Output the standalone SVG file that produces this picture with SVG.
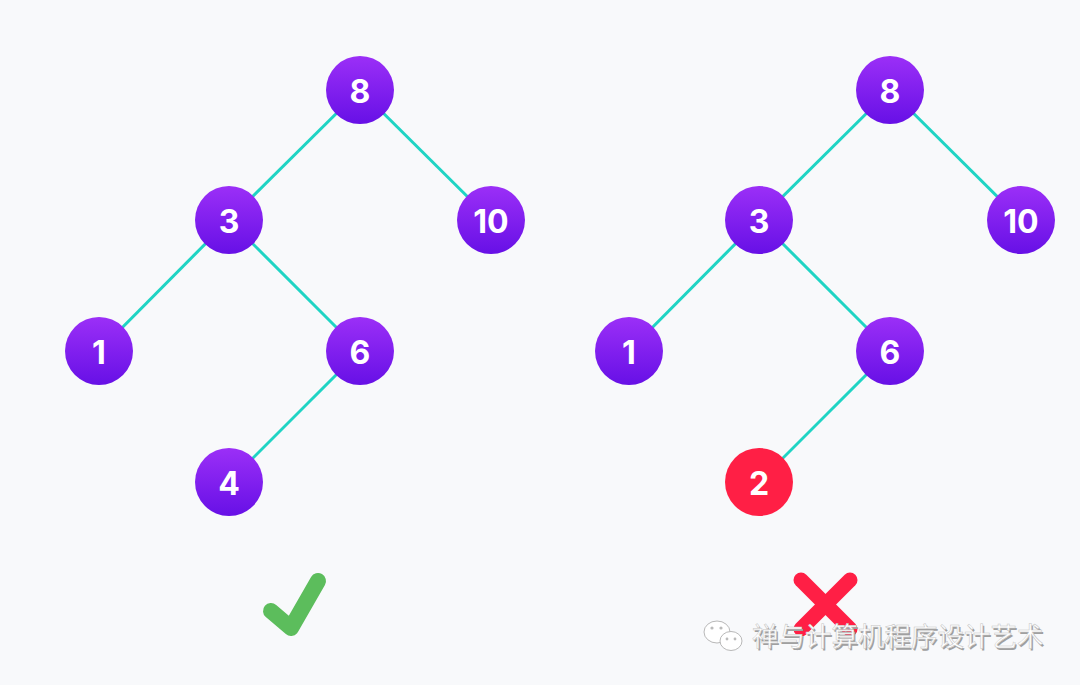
<svg xmlns="http://www.w3.org/2000/svg" width="1080" height="685" viewBox="0 0 1080 685">
<defs>
<linearGradient id="pg" x1="0" y1="0" x2="0" y2="1">
<stop offset="0" stop-color="#9b2ff7"/>
<stop offset="1" stop-color="#6710e6"/>
</linearGradient>
<style>
.edge{stroke:#1fd4c4;stroke-width:3;fill:none}
.node{fill:url(#pg)}
.bad{fill:#ff1f45}
.lbl{font-family:Inter,"Open Sans",sans-serif;font-weight:700;font-size:32px;fill:#fff;text-anchor:middle;dominant-baseline:central}
.wm{font-family:"Noto Sans CJK SC",sans-serif;font-size:26.5px}
</style>
</defs>
<rect width="1080" height="685" fill="#f8f9fb"/>
<g id="connectors">
<line class="edge" x1="360" y1="90" x2="229" y2="220"/>
<line class="edge" x1="360" y1="90" x2="491" y2="220"/>
<line class="edge" x1="229" y1="220" x2="99" y2="351"/>
<line class="edge" x1="229" y1="220" x2="360" y2="351"/>
<line class="edge" x1="360" y1="351" x2="229" y2="482"/>
<line class="edge" x1="890" y1="90" x2="759" y2="220"/>
<line class="edge" x1="890" y1="90" x2="1021" y2="220"/>
<line class="edge" x1="759" y1="220" x2="629" y2="351"/>
<line class="edge" x1="759" y1="220" x2="890" y2="351"/>
<line class="edge" x1="890" y1="351" x2="759" y2="482"/>
</g>
<g id="L8"><circle class="node" cx="360" cy="90" r="34"/><text class="lbl" x="360" y="91">8</text></g>
<g id="L3"><circle class="node" cx="229" cy="220" r="34"/><text class="lbl" x="229" y="221">3</text></g>
<g id="L10"><circle class="node" cx="491" cy="220" r="34"/><text class="lbl" x="491" y="221">10</text></g>
<g id="L1"><circle class="node" cx="99" cy="351" r="34"/><text class="lbl" x="99" y="352">1</text></g>
<g id="L6"><circle class="node" cx="360" cy="351" r="34"/><text class="lbl" x="360" y="352">6</text></g>
<g id="L4"><circle class="node" cx="229" cy="482" r="34"/><text class="lbl" x="229" y="483">4</text></g>
<g id="R8"><circle class="node" cx="890" cy="90" r="34"/><text class="lbl" x="890" y="91">8</text></g>
<g id="R3"><circle class="node" cx="759" cy="220" r="34"/><text class="lbl" x="759" y="221">3</text></g>
<g id="R10"><circle class="node" cx="1021" cy="220" r="34"/><text class="lbl" x="1021" y="221">10</text></g>
<g id="R1"><circle class="node" cx="629" cy="351" r="34"/><text class="lbl" x="629" y="352">1</text></g>
<g id="R6"><circle class="node" cx="890" cy="351" r="34"/><text class="lbl" x="890" y="352">6</text></g>
<g id="R2"><circle class="bad" cx="759" cy="482" r="34"/><text class="lbl" x="759" y="483">2</text></g>
<g id="check"><polyline points="271,611 291,628 318,581" fill="none" stroke="#5cbd5c" stroke-width="16" stroke-linecap="round" stroke-linejoin="round"/></g>
<g id="cross" stroke="#ff1f45" stroke-width="15" stroke-linecap="round">
<line x1="801" y1="580" x2="850" y2="629"/>
<line x1="850" y1="580" x2="801" y2="629"/>
</g>
<g id="watermark">
<ellipse cx="717" cy="632" rx="13" ry="11" fill="#fff" stroke="#b8b8b8" stroke-width="1"/>
<ellipse cx="731" cy="641" rx="11" ry="9.5" fill="#fff" stroke="#b8b8b8" stroke-width="1"/>
<circle cx="712" cy="628" r="1.6" fill="#bbb"/><circle cx="721" cy="628" r="1.6" fill="#bbb"/>
<circle cx="727" cy="639" r="1.4" fill="#bbb"/><circle cx="735" cy="639" r="1.4" fill="#bbb"/>
<text class="wm" x="753.5" y="647.5" fill="#a0a0a0">禅与计算机程序设计艺术</text>
<text class="wm" x="752" y="646" fill="#ffffff" stroke="#c4c4c4" stroke-width="0.5">禅与计算机程序设计艺术</text>
</g>
</svg>
